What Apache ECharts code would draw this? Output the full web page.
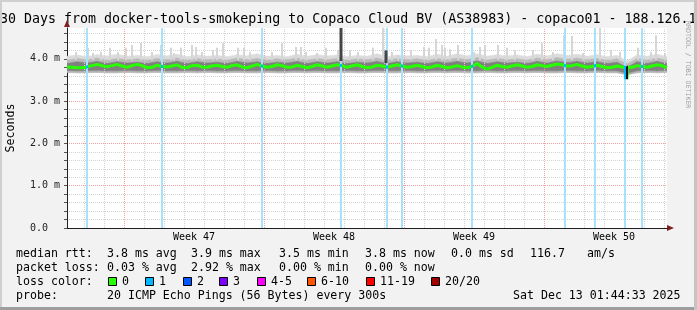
<!DOCTYPE html>
<html><head><meta charset="utf-8">
<script src="https://cdn.jsdelivr.net/npm/echarts@6/dist/echarts.min.js"></script>
<style>html,body{margin:0;padding:0;background:#f2f2f2;overflow:hidden}#c{width:697px;height:310px}</style>
</head><body><div id="c"></div>
<script>
// ---------------- data ----------------
const titleText = "30 Days from docker-tools-smokeping to Copaco Cloud BV (AS38983) - copaco01 - 188.126.1";
const yAxisName = "Seconds";
const sideText = "RRDTOOL / TOBI OETIKER";
const weekLabels = ["Week 47", "Week 48", "Week 49", "Week 50"];
const weekCenters = [6.35, 13.35, 20.35, 27.35];       // days from left edge
const weekLines = [2.85, 9.85, 16.85, 23.85];
const dayLines = [0.85,1.85,3.85,4.85,5.85,6.85,7.85,8.85,10.85,11.85,12.85,13.85,14.85,15.85,
                  17.85,18.85,19.85,20.85,21.85,22.85,24.85,25.85,26.85,27.85,28.85,29.85];

// median rtt (ms), one value every 6 hours (0.25 day)
const medianVals = [3.81,3.80,3.79,3.79,3.81,3.84,3.87,3.84,3.81,3.84,
  3.87,3.83,3.80,3.84,3.87,3.84,3.79,3.80,3.85,3.82,
  3.81,3.83,3.86,3.80,3.79,3.84,3.85,3.81,3.80,3.83,
  3.85,3.82,3.80,3.84,3.86,3.81,3.79,3.83,3.87,3.83,
  3.80,3.82,3.86,3.84,3.80,3.81,3.85,3.82,3.79,3.82,
  3.86,3.83,3.80,3.83,3.86,3.84,3.80,3.83,3.86,3.82,
  3.79,3.81,3.85,3.83,3.80,3.83,3.86,3.83,3.80,3.82,
  3.85,3.82,3.79,3.81,3.85,3.82,3.79,3.81,3.84,3.81,
  3.79,3.82,3.89,3.81,3.76,3.80,3.85,3.82,3.80,3.83,
  3.86,3.83,3.80,3.82,3.86,3.84,3.82,3.85,3.88,3.86,
  3.83,3.84,3.87,3.83,3.80,3.82,3.85,3.82,3.79,3.80,
  3.83,3.81,3.81,3.80,3.84,3.82,3.80,3.83,3.86,3.84,
  3.79];
// short dip of the median (day, ms)
const medianDip = [[27.92,3.80],[27.94,3.52],[28.0,3.52],[28.02,3.80]];

// smoke percentiles (ms), one value every 12 hours (0.5 day)
const smokeLow = [3.68,3.67,3.67,3.68,3.67,3.67,3.68,3.67,3.67,3.68,
  3.67,3.67,3.68,3.67,3.68,3.67,3.67,3.68,3.67,3.67,
  3.68,3.67,3.67,3.68,3.67,3.68,3.67,3.67,3.68,3.67,
  3.67,3.68,3.67,3.67,3.68,3.67,3.67,3.68,3.67,3.68,
  3.67,3.67,3.68,3.67,3.67,3.68,3.67,3.68,3.67,3.67,
  3.68,3.67,3.67,3.68,3.67,3.67,3.62,3.67,3.68,3.67,3.68];
const darkLow = [3.73,3.72,3.72,3.73,3.72,3.72,3.73,3.72,3.72,3.73,
  3.72,3.72,3.73,3.72,3.73,3.72,3.72,3.73,3.72,3.72,
  3.73,3.72,3.72,3.73,3.72,3.73,3.72,3.72,3.73,3.72,
  3.72,3.73,3.72,3.72,3.73,3.72,3.72,3.73,3.72,3.73,
  3.72,3.72,3.73,3.72,3.72,3.73,3.72,3.73,3.72,3.72,
  3.73,3.72,3.72,3.73,3.72,3.72,3.66,3.72,3.73,3.72,3.73];
const darkTop = [3.89,3.93,3.90,3.94,3.89,3.93,3.90,3.92,3.89,3.93,
  3.90,3.94,3.89,3.93,3.90,3.92,3.89,3.94,3.90,3.93,
  3.89,3.92,3.90,3.94,3.89,3.93,3.90,3.93,3.89,3.92,
  3.90,3.94,3.89,3.93,3.90,3.92,3.89,3.93,3.90,3.94,
  3.90,3.95,3.89,3.93,3.90,3.92,3.89,3.94,3.90,3.95,
  3.91,3.94,3.90,3.93,3.89,3.92,3.80,3.93,3.89,3.94,3.89];
const midTop = [3.97,4.01,3.98,4.02,3.97,4.01,3.98,4.00,3.97,4.01,
  3.98,4.02,3.97,4.01,3.98,4.00,3.97,4.02,3.98,4.01,
  3.97,4.00,3.98,4.02,3.97,4.01,3.98,4.01,3.97,4.00,
  3.98,4.02,3.97,4.01,3.98,4.00,3.97,4.01,3.98,4.02,
  3.98,4.03,3.97,4.01,3.98,4.00,3.97,4.02,3.98,4.03,
  3.99,4.02,3.98,4.01,3.97,4.00,3.88,4.01,3.97,4.02,3.97];
const lightTop = [4.06,4.09,4.05,4.10,4.07,4.11,4.06,4.08,4.05,4.10,
  4.07,4.11,4.05,4.09,4.06,4.08,4.05,4.10,4.07,4.12,
  4.06,4.08,4.05,4.11,4.06,4.10,4.07,4.09,4.05,4.08,
  4.06,4.12,4.05,4.09,4.07,4.08,4.05,4.11,4.06,4.12,
  4.07,4.12,4.06,4.10,4.07,4.09,4.05,4.11,4.07,4.12,
  4.08,4.11,4.06,4.10,4.05,4.08,3.95,4.09,4.06,4.11,4.05];

// single slow pings: [day, low ms, high ms]
const spikes = [[0.45,3.97,4.16],[1.05,3.97,4.26],[1.3,3.97,4.14],[1.7,3.97,4.16],[2.15,3.97,4.26],
  [2.55,3.97,4.16],[2.95,3.97,4.26],[3.25,3.97,4.33],[3.7,3.97,4.38],[4.25,3.97,4.16],[4.7,3.97,4.33],
  [5.2,3.97,4.26],[5.35,3.97,4.14],[5.7,3.97,4.26],[6.25,3.97,4.33],[6.45,3.97,4.28],[6.75,3.97,4.16],
  [7.3,3.97,4.21],[7.5,3.97,4.26],[7.8,3.97,4.37],[8.55,3.97,4.26],[8.85,3.97,4.26],[9.15,3.97,4.16],
  [9.75,3.97,4.73],[10.25,3.97,4.16],[10.75,3.97,4.37],[11.45,3.97,4.28],[11.7,3.97,4.28],[11.95,3.97,4.16],
  [12.5,3.97,4.14],[12.95,3.97,4.26],[13.55,3.97,4.21],[14.15,3.97,4.21],[14.55,3.97,4.16],[14.85,3.97,4.04],
  [15.3,3.97,4.26],[15.8,3.97,4.73],[16.25,3.97,4.16],[16.55,3.97,4.09],[17.2,3.97,4.21],[17.85,3.97,4.28],
  [18.1,3.97,4.26],[18.45,3.97,4.47],[18.75,3.97,4.33],[18.9,3.97,4.26],[19.15,3.97,4.23],[19.55,3.97,4.33],
  [20.35,3.97,4.16],[20.65,3.97,4.28],[20.9,3.97,4.33],[21.55,3.97,4.33],[22.0,3.97,4.26],[22.4,3.97,4.21],
  [23.3,3.97,4.21],[23.75,3.97,4.37],[24.3,3.97,4.16],[24.85,3.97,4.56],[25.25,3.97,4.54],[25.8,3.97,4.14],
  [26.65,3.97,4.73],[27.2,3.97,4.21],[27.65,3.97,4.16],[28.55,3.97,4.26],[29.2,3.97,4.16],[29.45,3.97,4.56],
  [29.9,3.97,4.14]];
// dense slow-ping columns: [day, low ms, high ms]
const darkSpikes = [[13.7,3.95,4.73],[15.95,3.90,4.20]];
// intervals with one lost ping (day)
const lossDays = [1.0,4.75,9.75,13.7,16.0,16.75,20.25,24.9,26.4,27.9,28.75];
// median segment drawn dark (day range)
const darkMedian = [27.91, 28.03];

// legend / statistics
const rttLabel = "median rtt:";
const rttStats = ["3.8 ms avg","3.9 ms max","3.5 ms min","3.8 ms now","0.0 ms sd","116.7","am/s"];
const lossLabel = "packet loss:";
const lossStats = ["0.03 % avg","2.92 % max","0.00 % min","0.00 % now"];
const lossColorLabel = "loss color:";
const lossClasses = ["0","1","2","3","4-5","6-10","11-19","20/20"];
const lossColors = ["#26ff00","#00b8ff","#0059ff","#7e00ff","#ff00ff","#ff5500","#ff0000","#a10000"];
const probeLabel = "probe:";
const probeText = "20 ICMP Echo Pings (56 Bytes) every 300s";
const dateText = "Sat Dec 13 01:44:33 2025";

// ---------------- chart ----------------
const MONO = '"DejaVu Sans Mono", monospace';
const chart = echarts.init(document.getElementById('c'), null, {renderer: 'canvas'});

const halfDays = smokeLow.map((_, i) => i * 0.5);
function bandSeries(lo, hi, color, z) {
  const data = [];
  for (let i = 0; i < lo.length - 1; i++) {
    data.push([halfDays[i], lo[i], hi[i], halfDays[i + 1], lo[i + 1], hi[i + 1]]);
  }
  return {
    type: 'custom', silent: true, z: z, clip: true,
    encode: {x: 0, y: 1},
    renderItem: function (params, api) {
      const a = api.coord([api.value(0), api.value(1)]);
      const b = api.coord([api.value(3), api.value(4)]);
      const c = api.coord([api.value(3), api.value(5)]);
      const d = api.coord([api.value(0), api.value(2)]);
      return {type: 'polygon', shape: {points: [a, b, c, d]},
        style: {fill: color, stroke: color, lineWidth: 0.6}};
    },
    data: data
  };
}
const smokeSeries = [
  bandSeries(midTop, lightTop, '#dcdcdc', 3),
  bandSeries(darkTop, midTop, '#bababa', 3),
  bandSeries(smokeLow, darkLow, '#b4b4b4', 3),
  bandSeries(darkLow, darkTop, '#808080', 3)
];

const medianData = medianVals.map((v, i) => [i * 0.25, v]).concat(medianDip).sort((a, b) => a[0] - b[0]);

function columnRenderer(fill, w) {
  return function (params, api) {
    const top = api.coord([api.value(0), api.value(2)]);
    const bot = api.coord([api.value(0), api.value(1)]);
    return {type: 'rect', shape: {x: top[0] - w / 2, y: top[1], width: w, height: bot[1] - top[1]},
      style: {fill: fill}};
  };
}

const graphic = [];
graphic.push({type: 'text', x: 0, y: 20, style: {text: titleText, font: '13.3px ' + MONO, fill: '#000', textVerticalAlign: 'middle'}});
graphic.push({type: 'text', x: 11, y: 128, rotation: Math.PI / 2, style: {text: yAxisName, font: '11.6px ' + MONO, fill: '#000', textAlign: 'center', textVerticalAlign: 'middle'}});
graphic.push({type: 'text', x: 688, y: 21, rotation: -Math.PI / 2, style: {text: sideText, font: '6.6px ' + MONO, fill: '#a0a0a0', textAlign: 'left', textVerticalAlign: 'middle'}});
graphic.push({type: 'polygon', shape: {points: [[64, 27], [70, 27], [67, 20]]}, style: {fill: '#801f1f'}});
graphic.push({type: 'polygon', shape: {points: [[667, 225], [667, 231], [674, 228]]}, style: {fill: '#801f1f'}});
const F = '11.6px ' + MONO;
const cols = [107, 191, 279, 365, 451, 530, 587];
const rowY = [254, 268, 282, 296];
function txt(s, x, y, align) {
  graphic.push({type: 'text', x: x, y: y, style: {text: s, font: F, fill: '#000', textAlign: align || 'left', textVerticalAlign: 'middle'}});
}
txt(rttLabel, 16, rowY[0]);
rttStats.forEach((s, i) => txt(s, cols[i], rowY[0]));
txt(lossLabel, 16, rowY[1]);
lossStats.forEach((s, i) => txt(s, cols[i], rowY[1]));
txt(lossColorLabel, 16, rowY[2]);
const sqX = [108, 145, 183, 219, 257, 307, 366, 431];
lossClasses.forEach((s, i) => {
  graphic.push({type: 'rect', shape: {x: sqX[i] + 0.5, y: rowY[2] - 4.5, width: 8, height: 8}, style: {fill: lossColors[i], stroke: '#000', lineWidth: 1}});
  txt(s, sqX[i] + 14, rowY[2]);
});
txt(probeLabel, 16, rowY[3]);
txt(probeText, 107, rowY[3]);
txt(dateText, 513, rowY[3]);
graphic.push({type: 'rect', shape: {x: 0, y: 0, width: 697, height: 2}, style: {fill: '#cfcfcf'}});
graphic.push({type: 'rect', shape: {x: 0, y: 0, width: 2, height: 310}, style: {fill: '#cfcfcf'}});
graphic.push({type: 'rect', shape: {x: 0, y: 307, width: 697, height: 3}, style: {fill: '#9e9e9e'}});
graphic.push({type: 'rect', shape: {x: 694, y: 0, width: 3, height: 310}, style: {fill: '#c4c4c4'}});

// colour pieces of the median line (green, blue at one-loss intervals, dark in the dip)
const special = lossDays
  .filter(d => d < darkMedian[0] || d > darkMedian[1])
  .map(d => ({from: d - 0.04, to: d + 0.04, color: '#00b8ff'}))
  .concat([{from: darkMedian[0], to: darkMedian[1], color: '#111111'}])
  .sort((a, b) => a.from - b.from);
const medianPieces = [];
let prev = -1;
special.forEach(s => {
  medianPieces.push({gte: prev, lt: s.from, color: '#26ff00'});
  medianPieces.push({gte: s.from, lt: s.to, color: s.color});
  prev = s.to;
});
medianPieces.push({gte: prev, lte: 31, color: '#26ff00'});

const series = [
  {type: 'line', data: [], silent: true, z: 1,
    markLine: {silent: true, symbol: 'none', label: {show: false}, animation: false,
      data: dayLines.map(d => ({xAxis: d, lineStyle: {color: '#d2d2d2', type: [1, 1], width: 1}}))
        .concat(weekLines.map(d => ({xAxis: d, lineStyle: {color: '#f2a0a0', type: [1, 1], width: 1}})))}},
  {type: 'line', data: [], silent: true, z: 2,
    markLine: {silent: true, symbol: 'none', label: {show: false}, animation: false,
      data: lossDays.map(d => ({xAxis: d, lineStyle: {color: '#a6e2fb', type: 'solid', width: 2}}))}}
].concat(smokeSeries).concat([
  {type: 'custom', silent: true, z: 4, clip: true, encode: {x: 0, y: 2}, renderItem: columnRenderer('#d6d6d6', 2), data: spikes},
  {type: 'custom', silent: true, z: 5, clip: true, encode: {x: 0, y: 2}, renderItem: columnRenderer('#454545', 3), data: darkSpikes},
  {type: 'line', data: medianData, symbol: 'none', silent: true, z: 6, lineStyle: {width: 3}}
]);
const medianIndex = series.length - 1;

const option = {
  animation: false,
  backgroundColor: '#f2f2f2',
  grid: {left: 67, right: 30, top: 28, bottom: 82, show: true, backgroundColor: '#ffffff', borderWidth: 0},
  xAxis: {
    type: 'value', min: 0, max: 30,
    axisLine: {show: true, lineStyle: {color: '#1f1f1f', width: 1}},
    axisTick: {show: false},
    splitLine: {show: false},
    axisLabel: {
      customValues: weekCenters,
      formatter: v => { const i = weekCenters.findIndex(c => Math.abs(c - v) < 1e-6); return i >= 0 ? weekLabels[i] : ''; },
      margin: 4, color: '#000', fontFamily: MONO, fontSize: 10
    }
  },
  yAxis: {
    type: 'value', min: 0, max: 4.73, interval: 0.2,
    axisLine: {show: true, lineStyle: {color: '#1f1f1f', width: 1}},
    axisTick: {show: true, length: 3, lineStyle: {color: '#555'}},
    splitLine: {show: true, showMaxLine: false,
      lineStyle: {color: ['#f2a0a0', '#d2d2d2', '#d2d2d2', '#d2d2d2', '#d2d2d2'], type: [1, 1], width: 1}},
    axisLabel: {
      showMaxLabel: false,
      formatter: v => { const r = Math.round(v); if (Math.abs(v - r) > 1e-6) return ''; return r === 0 ? '0.0' : r.toFixed(1) + ' m'; },
      align: 'left', margin: 37, color: '#222', fontFamily: MONO, fontSize: 10
    }
  },
  visualMap: {
    show: false, type: 'piecewise', seriesIndex: medianIndex, dimension: 0,
    pieces: medianPieces
  },
  graphic: graphic,
  series: series
};
chart.setOption(option);
</script>
</body></html>
